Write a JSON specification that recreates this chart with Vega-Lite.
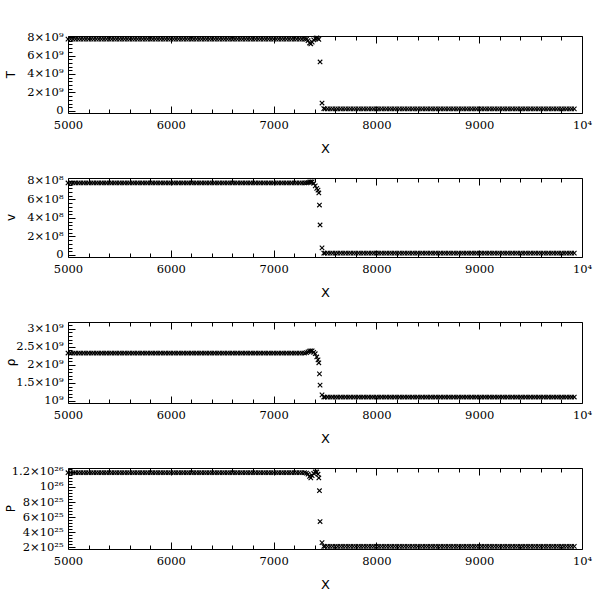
{
 "$schema": "https://vega.github.io/schema/vega-lite/v6.json",
 "background": "white",
 "padding": {"left": 3, "top": 30, "right": 5, "bottom": 5},
 "config": {"view": {"stroke": "black", "strokeWidth": 1}, "axis": {"domain": false, "grid": false, "tickColor": "black", "labelColor": "black", "labelFont": "DejaVu Serif", "labelFontSize": 11.5, "titleColor": "black", "titleFontWeight": "normal"}},
 "datasets": {"d": [
{"x":5000,"T":7.78e9,"v":7.78e8,"r":2.33e9,"P":1.19e26},{"x":5025,"T":7.78e9,"v":7.78e8,"r":2.33e9,"P":1.19e26},{"x":5050,"T":7.78e9,"v":7.78e8,"r":2.33e9,"P":1.19e26},{"x":5075,"T":7.78e9,"v":7.78e8,"r":2.33e9,"P":1.19e26},{"x":5100,"T":7.78e9,"v":7.78e8,"r":2.33e9,"P":1.19e26},{"x":5125,"T":7.78e9,"v":7.78e8,"r":2.33e9,"P":1.19e26},{"x":5150,"T":7.78e9,"v":7.78e8,"r":2.33e9,"P":1.19e26},{"x":5175,"T":7.78e9,"v":7.78e8,"r":2.33e9,"P":1.19e26},{"x":5200,"T":7.78e9,"v":7.78e8,"r":2.33e9,"P":1.19e26},{"x":5225,"T":7.78e9,"v":7.78e8,"r":2.33e9,"P":1.19e26},{"x":5250,"T":7.78e9,"v":7.78e8,"r":2.33e9,"P":1.19e26},{"x":5275,"T":7.78e9,"v":7.78e8,"r":2.33e9,"P":1.19e26},{"x":5300,"T":7.78e9,"v":7.78e8,"r":2.33e9,"P":1.19e26},{"x":5325,"T":7.78e9,"v":7.78e8,"r":2.33e9,"P":1.19e26},{"x":5350,"T":7.78e9,"v":7.78e8,"r":2.33e9,"P":1.19e26},{"x":5375,"T":7.78e9,"v":7.78e8,"r":2.33e9,"P":1.19e26},{"x":5400,"T":7.78e9,"v":7.78e8,"r":2.33e9,"P":1.19e26},{"x":5425,"T":7.78e9,"v":7.78e8,"r":2.33e9,"P":1.19e26},{"x":5450,"T":7.78e9,"v":7.78e8,"r":2.33e9,"P":1.19e26},{"x":5475,"T":7.78e9,"v":7.78e8,"r":2.33e9,"P":1.19e26},{"x":5500,"T":7.78e9,"v":7.78e8,"r":2.33e9,"P":1.19e26},{"x":5525,"T":7.78e9,"v":7.78e8,"r":2.33e9,"P":1.19e26},{"x":5550,"T":7.78e9,"v":7.78e8,"r":2.33e9,"P":1.19e26},{"x":5575,"T":7.78e9,"v":7.78e8,"r":2.33e9,"P":1.19e26},{"x":5600,"T":7.78e9,"v":7.78e8,"r":2.33e9,"P":1.19e26},{"x":5625,"T":7.78e9,"v":7.78e8,"r":2.33e9,"P":1.19e26},{"x":5650,"T":7.78e9,"v":7.78e8,"r":2.33e9,"P":1.19e26},{"x":5675,"T":7.78e9,"v":7.78e8,"r":2.33e9,"P":1.19e26},{"x":5700,"T":7.78e9,"v":7.78e8,"r":2.33e9,"P":1.19e26},{"x":5725,"T":7.78e9,"v":7.78e8,"r":2.33e9,"P":1.19e26},{"x":5750,"T":7.78e9,"v":7.78e8,"r":2.33e9,"P":1.19e26},{"x":5775,"T":7.78e9,"v":7.78e8,"r":2.33e9,"P":1.19e26},{"x":5800,"T":7.78e9,"v":7.78e8,"r":2.33e9,"P":1.19e26},{"x":5825,"T":7.78e9,"v":7.78e8,"r":2.33e9,"P":1.19e26},{"x":5850,"T":7.78e9,"v":7.78e8,"r":2.33e9,"P":1.19e26},{"x":5875,"T":7.78e9,"v":7.78e8,"r":2.33e9,"P":1.19e26},{"x":5900,"T":7.78e9,"v":7.78e8,"r":2.33e9,"P":1.19e26},{"x":5925,"T":7.78e9,"v":7.78e8,"r":2.33e9,"P":1.19e26},{"x":5950,"T":7.78e9,"v":7.78e8,"r":2.33e9,"P":1.19e26},{"x":5975,"T":7.78e9,"v":7.78e8,"r":2.33e9,"P":1.19e26},{"x":6000,"T":7.78e9,"v":7.78e8,"r":2.33e9,"P":1.19e26},{"x":6025,"T":7.78e9,"v":7.78e8,"r":2.33e9,"P":1.19e26},{"x":6050,"T":7.78e9,"v":7.78e8,"r":2.33e9,"P":1.19e26},{"x":6075,"T":7.78e9,"v":7.78e8,"r":2.33e9,"P":1.19e26},{"x":6100,"T":7.78e9,"v":7.78e8,"r":2.33e9,"P":1.19e26},{"x":6125,"T":7.78e9,"v":7.78e8,"r":2.33e9,"P":1.19e26},{"x":6150,"T":7.78e9,"v":7.78e8,"r":2.33e9,"P":1.19e26},{"x":6175,"T":7.78e9,"v":7.78e8,"r":2.33e9,"P":1.19e26},{"x":6200,"T":7.78e9,"v":7.78e8,"r":2.33e9,"P":1.19e26},{"x":6225,"T":7.78e9,"v":7.78e8,"r":2.33e9,"P":1.19e26},{"x":6250,"T":7.78e9,"v":7.78e8,"r":2.33e9,"P":1.19e26},{"x":6275,"T":7.78e9,"v":7.78e8,"r":2.33e9,"P":1.19e26},{"x":6300,"T":7.78e9,"v":7.78e8,"r":2.33e9,"P":1.19e26},{"x":6325,"T":7.78e9,"v":7.78e8,"r":2.33e9,"P":1.19e26},{"x":6350,"T":7.78e9,"v":7.78e8,"r":2.33e9,"P":1.19e26},{"x":6375,"T":7.78e9,"v":7.78e8,"r":2.33e9,"P":1.19e26},{"x":6400,"T":7.78e9,"v":7.78e8,"r":2.33e9,"P":1.19e26},{"x":6425,"T":7.78e9,"v":7.78e8,"r":2.33e9,"P":1.19e26},{"x":6450,"T":7.78e9,"v":7.78e8,"r":2.33e9,"P":1.19e26},{"x":6475,"T":7.78e9,"v":7.78e8,"r":2.33e9,"P":1.19e26},{"x":6500,"T":7.78e9,"v":7.78e8,"r":2.33e9,"P":1.19e26},{"x":6525,"T":7.78e9,"v":7.78e8,"r":2.33e9,"P":1.19e26},{"x":6550,"T":7.78e9,"v":7.78e8,"r":2.33e9,"P":1.19e26},{"x":6575,"T":7.78e9,"v":7.78e8,"r":2.33e9,"P":1.19e26},{"x":6600,"T":7.78e9,"v":7.78e8,"r":2.33e9,"P":1.19e26},{"x":6625,"T":7.78e9,"v":7.78e8,"r":2.33e9,"P":1.19e26},{"x":6650,"T":7.78e9,"v":7.78e8,"r":2.33e9,"P":1.19e26},{"x":6675,"T":7.78e9,"v":7.78e8,"r":2.33e9,"P":1.19e26},{"x":6700,"T":7.78e9,"v":7.78e8,"r":2.33e9,"P":1.19e26},{"x":6725,"T":7.78e9,"v":7.78e8,"r":2.33e9,"P":1.19e26},{"x":6750,"T":7.78e9,"v":7.78e8,"r":2.33e9,"P":1.19e26},{"x":6775,"T":7.78e9,"v":7.78e8,"r":2.33e9,"P":1.19e26},{"x":6800,"T":7.78e9,"v":7.78e8,"r":2.33e9,"P":1.19e26},{"x":6825,"T":7.78e9,"v":7.78e8,"r":2.33e9,"P":1.19e26},{"x":6850,"T":7.78e9,"v":7.78e8,"r":2.33e9,"P":1.19e26},{"x":6875,"T":7.78e9,"v":7.78e8,"r":2.33e9,"P":1.19e26},{"x":6900,"T":7.78e9,"v":7.78e8,"r":2.33e9,"P":1.19e26},{"x":6925,"T":7.78e9,"v":7.78e8,"r":2.33e9,"P":1.19e26},{"x":6950,"T":7.78e9,"v":7.78e8,"r":2.33e9,"P":1.19e26},{"x":6975,"T":7.78e9,"v":7.78e8,"r":2.33e9,"P":1.19e26},{"x":7000,"T":7.78e9,"v":7.78e8,"r":2.33e9,"P":1.19e26},{"x":7025,"T":7.78e9,"v":7.78e8,"r":2.33e9,"P":1.19e26},{"x":7050,"T":7.78e9,"v":7.78e8,"r":2.33e9,"P":1.19e26},{"x":7075,"T":7.78e9,"v":7.78e8,"r":2.33e9,"P":1.19e26},{"x":7100,"T":7.78e9,"v":7.78e8,"r":2.33e9,"P":1.19e26},{"x":7125,"T":7.78e9,"v":7.78e8,"r":2.33e9,"P":1.19e26},{"x":7150,"T":7.78e9,"v":7.78e8,"r":2.33e9,"P":1.19e26},{"x":7175,"T":7.78e9,"v":7.78e8,"r":2.33e9,"P":1.19e26},{"x":7200,"T":7.78e9,"v":7.78e8,"r":2.33e9,"P":1.19e26},{"x":7225,"T":7.78e9,"v":7.78e8,"r":2.33e9,"P":1.19e26},{"x":7250,"T":7.78e9,"v":7.78e8,"r":2.33e9,"P":1.19e26},{"x":7275,"T":7.78e9,"v":7.78e8,"r":2.33e9,"P":1.19e26},{"x":7300,"T":7.78e9,"v":7.78e8,"r":2.33e9,"P":1.19e26},
{"x":7320,"T":7.76e9,"v":7.8e8,"r":2.34e9,"P":1.185e26},{"x":7335,"T":7.6e9,"v":7.83e8,"r":2.36e9,"P":1.17e26},{"x":7350,"T":7.35e9,"v":7.87e8,"r":2.38e9,"P":1.14e26},{"x":7362,"T":7.25e9,"v":7.9e8,"r":2.39e9,"P":1.12e26},{"x":7375,"T":7.45e9,"v":7.9e8,"r":2.39e9,"P":1.15e26},{"x":7390,"T":7.7e9,"v":7.75e8,"r":2.35e9,"P":1.18e26},{"x":7405,"T":7.85e9,"v":7.46e8,"r":2.31e9,"P":1.2e26},{"x":7420,"T":7.9e9,"v":7.2e8,"r":2.22e9,"P":1.2e26},{"x":7432,"T":7.85e9,"v":7.0e8,"r":2.14e9,"P":1.17e26},{"x":7440,"T":7.75e9,"v":6.7e8,"r":2.06e9,"P":1.12e26},{"x":7446,"v":5.4e8,"r":1.75e9,"P":9.5e25},{"x":7452,"T":5.3e9,"v":3.24e8,"r":1.44e9,"P":5.4e25},{"x":7471,"T":8.6e8,"v":7.6e7,"r":1.17e9,"P":2.6e25},{"x":7488,"T":2.5e8,"v":2e7,"r":1.11e9,"P":2.1e25},
{"x":7500,"T":2.2e8,"v":2e7,"r":1.11e9,"P":2.1e25},{"x":7525,"T":2.2e8,"v":2e7,"r":1.11e9,"P":2.1e25},{"x":7550,"T":2.2e8,"v":2e7,"r":1.11e9,"P":2.1e25},{"x":7575,"T":2.2e8,"v":2e7,"r":1.11e9,"P":2.1e25},{"x":7600,"T":2.2e8,"v":2e7,"r":1.11e9,"P":2.1e25},{"x":7625,"T":2.2e8,"v":2e7,"r":1.11e9,"P":2.1e25},{"x":7650,"T":2.2e8,"v":2e7,"r":1.11e9,"P":2.1e25},{"x":7675,"T":2.2e8,"v":2e7,"r":1.11e9,"P":2.1e25},{"x":7700,"T":2.2e8,"v":2e7,"r":1.11e9,"P":2.1e25},{"x":7725,"T":2.2e8,"v":2e7,"r":1.11e9,"P":2.1e25},{"x":7750,"T":2.2e8,"v":2e7,"r":1.11e9,"P":2.1e25},{"x":7775,"T":2.2e8,"v":2e7,"r":1.11e9,"P":2.1e25},{"x":7800,"T":2.2e8,"v":2e7,"r":1.11e9,"P":2.1e25},{"x":7825,"T":2.2e8,"v":2e7,"r":1.11e9,"P":2.1e25},{"x":7850,"T":2.2e8,"v":2e7,"r":1.11e9,"P":2.1e25},{"x":7875,"T":2.2e8,"v":2e7,"r":1.11e9,"P":2.1e25},{"x":7900,"T":2.2e8,"v":2e7,"r":1.11e9,"P":2.1e25},{"x":7925,"T":2.2e8,"v":2e7,"r":1.11e9,"P":2.1e25},{"x":7950,"T":2.2e8,"v":2e7,"r":1.11e9,"P":2.1e25},{"x":7975,"T":2.2e8,"v":2e7,"r":1.11e9,"P":2.1e25},{"x":8000,"T":2.2e8,"v":2e7,"r":1.11e9,"P":2.1e25},{"x":8025,"T":2.2e8,"v":2e7,"r":1.11e9,"P":2.1e25},{"x":8050,"T":2.2e8,"v":2e7,"r":1.11e9,"P":2.1e25},{"x":8075,"T":2.2e8,"v":2e7,"r":1.11e9,"P":2.1e25},{"x":8100,"T":2.2e8,"v":2e7,"r":1.11e9,"P":2.1e25},{"x":8125,"T":2.2e8,"v":2e7,"r":1.11e9,"P":2.1e25},{"x":8150,"T":2.2e8,"v":2e7,"r":1.11e9,"P":2.1e25},{"x":8175,"T":2.2e8,"v":2e7,"r":1.11e9,"P":2.1e25},{"x":8200,"T":2.2e8,"v":2e7,"r":1.11e9,"P":2.1e25},{"x":8225,"T":2.2e8,"v":2e7,"r":1.11e9,"P":2.1e25},{"x":8250,"T":2.2e8,"v":2e7,"r":1.11e9,"P":2.1e25},{"x":8275,"T":2.2e8,"v":2e7,"r":1.11e9,"P":2.1e25},{"x":8300,"T":2.2e8,"v":2e7,"r":1.11e9,"P":2.1e25},{"x":8325,"T":2.2e8,"v":2e7,"r":1.11e9,"P":2.1e25},{"x":8350,"T":2.2e8,"v":2e7,"r":1.11e9,"P":2.1e25},{"x":8375,"T":2.2e8,"v":2e7,"r":1.11e9,"P":2.1e25},{"x":8400,"T":2.2e8,"v":2e7,"r":1.11e9,"P":2.1e25},{"x":8425,"T":2.2e8,"v":2e7,"r":1.11e9,"P":2.1e25},{"x":8450,"T":2.2e8,"v":2e7,"r":1.11e9,"P":2.1e25},{"x":8475,"T":2.2e8,"v":2e7,"r":1.11e9,"P":2.1e25},{"x":8500,"T":2.2e8,"v":2e7,"r":1.11e9,"P":2.1e25},{"x":8525,"T":2.2e8,"v":2e7,"r":1.11e9,"P":2.1e25},{"x":8550,"T":2.2e8,"v":2e7,"r":1.11e9,"P":2.1e25},{"x":8575,"T":2.2e8,"v":2e7,"r":1.11e9,"P":2.1e25},{"x":8600,"T":2.2e8,"v":2e7,"r":1.11e9,"P":2.1e25},{"x":8625,"T":2.2e8,"v":2e7,"r":1.11e9,"P":2.1e25},{"x":8650,"T":2.2e8,"v":2e7,"r":1.11e9,"P":2.1e25},{"x":8675,"T":2.2e8,"v":2e7,"r":1.11e9,"P":2.1e25},{"x":8700,"T":2.2e8,"v":2e7,"r":1.11e9,"P":2.1e25},{"x":8725,"T":2.2e8,"v":2e7,"r":1.11e9,"P":2.1e25},{"x":8750,"T":2.2e8,"v":2e7,"r":1.11e9,"P":2.1e25},{"x":8775,"T":2.2e8,"v":2e7,"r":1.11e9,"P":2.1e25},{"x":8800,"T":2.2e8,"v":2e7,"r":1.11e9,"P":2.1e25},{"x":8825,"T":2.2e8,"v":2e7,"r":1.11e9,"P":2.1e25},{"x":8850,"T":2.2e8,"v":2e7,"r":1.11e9,"P":2.1e25},{"x":8875,"T":2.2e8,"v":2e7,"r":1.11e9,"P":2.1e25},{"x":8900,"T":2.2e8,"v":2e7,"r":1.11e9,"P":2.1e25},{"x":8925,"T":2.2e8,"v":2e7,"r":1.11e9,"P":2.1e25},{"x":8950,"T":2.2e8,"v":2e7,"r":1.11e9,"P":2.1e25},{"x":8975,"T":2.2e8,"v":2e7,"r":1.11e9,"P":2.1e25},{"x":9000,"T":2.2e8,"v":2e7,"r":1.11e9,"P":2.1e25},{"x":9025,"T":2.2e8,"v":2e7,"r":1.11e9,"P":2.1e25},{"x":9050,"T":2.2e8,"v":2e7,"r":1.11e9,"P":2.1e25},{"x":9075,"T":2.2e8,"v":2e7,"r":1.11e9,"P":2.1e25},{"x":9100,"T":2.2e8,"v":2e7,"r":1.11e9,"P":2.1e25},{"x":9125,"T":2.2e8,"v":2e7,"r":1.11e9,"P":2.1e25},{"x":9150,"T":2.2e8,"v":2e7,"r":1.11e9,"P":2.1e25},{"x":9175,"T":2.2e8,"v":2e7,"r":1.11e9,"P":2.1e25},{"x":9200,"T":2.2e8,"v":2e7,"r":1.11e9,"P":2.1e25},{"x":9225,"T":2.2e8,"v":2e7,"r":1.11e9,"P":2.1e25},{"x":9250,"T":2.2e8,"v":2e7,"r":1.11e9,"P":2.1e25},{"x":9275,"T":2.2e8,"v":2e7,"r":1.11e9,"P":2.1e25},{"x":9300,"T":2.2e8,"v":2e7,"r":1.11e9,"P":2.1e25},{"x":9325,"T":2.2e8,"v":2e7,"r":1.11e9,"P":2.1e25},{"x":9350,"T":2.2e8,"v":2e7,"r":1.11e9,"P":2.1e25},{"x":9375,"T":2.2e8,"v":2e7,"r":1.11e9,"P":2.1e25},{"x":9400,"T":2.2e8,"v":2e7,"r":1.11e9,"P":2.1e25},{"x":9425,"T":2.2e8,"v":2e7,"r":1.11e9,"P":2.1e25},{"x":9450,"T":2.2e8,"v":2e7,"r":1.11e9,"P":2.1e25},{"x":9475,"T":2.2e8,"v":2e7,"r":1.11e9,"P":2.1e25},{"x":9500,"T":2.2e8,"v":2e7,"r":1.11e9,"P":2.1e25},{"x":9525,"T":2.2e8,"v":2e7,"r":1.11e9,"P":2.1e25},{"x":9550,"T":2.2e8,"v":2e7,"r":1.11e9,"P":2.1e25},{"x":9575,"T":2.2e8,"v":2e7,"r":1.11e9,"P":2.1e25},{"x":9600,"T":2.2e8,"v":2e7,"r":1.11e9,"P":2.1e25},{"x":9625,"T":2.2e8,"v":2e7,"r":1.11e9,"P":2.1e25},{"x":9650,"T":2.2e8,"v":2e7,"r":1.11e9,"P":2.1e25},{"x":9675,"T":2.2e8,"v":2e7,"r":1.11e9,"P":2.1e25},{"x":9700,"T":2.2e8,"v":2e7,"r":1.11e9,"P":2.1e25},{"x":9725,"T":2.2e8,"v":2e7,"r":1.11e9,"P":2.1e25},{"x":9750,"T":2.2e8,"v":2e7,"r":1.11e9,"P":2.1e25},{"x":9775,"T":2.2e8,"v":2e7,"r":1.11e9,"P":2.1e25},{"x":9800,"T":2.2e8,"v":2e7,"r":1.11e9,"P":2.1e25},{"x":9825,"T":2.2e8,"v":2e7,"r":1.11e9,"P":2.1e25},{"x":9850,"T":2.2e8,"v":2e7,"r":1.11e9,"P":2.1e25},{"x":9875,"T":2.2e8,"v":2e7,"r":1.11e9,"P":2.1e25},{"x":9900,"T":2.2e8,"v":2e7,"r":1.11e9,"P":2.1e25},{"x":9925,"T":2.2e8,"v":2e7,"r":1.11e9,"P":2.1e25}
 ]},
 "data": {"name": "d"},
 "spacing": 65,
 "bounds": "flush",
 "vconcat": [
  {"width": 514, "height": 77,
   "layer": [
    {"mark": {"type": "point", "shape": "M-1,-1L1,1M-1,1L1,-1", "size": 20, "filled": false, "stroke": "black", "strokeWidth": 1.1, "opacity": 1},
     "encoding": {
      "x": {"field": "x", "type": "quantitative", "scale": {"domain": [5000, 10000], "nice": false, "zero": false},
            "axis": {"orient": "bottom", "values": [5000,5200,5400,5600,5800,6000,6200,6400,6600,6800,7000,7200,7400,7600,7800,8000,8200,8400,8600,8800,9000,9200,9400,9600,9800,10000], "labelExpr": "datum.value % 1000 == 0 ? (datum.value == 10000 ? '10⁴' : format(datum.value, 'd')) : ''", "tickSize": {"condition": {"test": "datum.value % 1000 == 0", "value": -7}, "value": -4}, "labelPadding": 13, "labelFlush": false, "labelOverlap": false, "title": "X", "titleFont": "DejaVu Sans", "titleFontSize": 13, "titleBaseline": "middle", "titleY": 35}},
      "y": {"field": "T", "type": "quantitative", "scale": {"domain": [-2.2e8, 8.11e9], "nice": false, "zero": false},
            "axis": {"orient": "left", "values": [0,400000000,800000000,1200000000,1600000000,2000000000,2400000000,2800000000,3200000000,3600000000,4000000000,4400000000,4800000000,5200000000,5600000000,6000000000,6400000000,6800000000,7200000000,7600000000,8000000000], "labelExpr": "datum.value == 0 ? '0' : (datum.value % 2000000000 == 0 ? format(datum.value / 1e9, 'd') + '×10⁹' : '')", "tickSize": {"condition": {"test": "datum.value % 2000000000 == 0", "value": -7}, "value": -4}, "labelPadding": 12, "labelOverlap": false, "labelFlush": false, "title": "T", "titleFont": "DejaVu Sans", "titleFontSize": 12, "titleBaseline": "middle", "titleX": -58, "titleY": 38}}
     }},
    {"mark": {"type": "point", "opacity": 0},
     "encoding": {
      "x": {"field": "x", "type": "quantitative", "axis": {"orient": "top", "values": [5000,5200,5400,5600,5800,6000,6200,6400,6600,6800,7000,7200,7400,7600,7800,8000,8200,8400,8600,8800,9000,9200,9400,9600,9800,10000], "labels": false, "title": null, "tickSize": {"condition": {"test": "datum.value % 1000 == 0", "value": -7}, "value": -4}}},
      "y": {"field": "T", "type": "quantitative", "axis": null}
     }}
   ],
   "resolve": {"axis": {"x": "independent", "y": "independent"}}
  },
  {"width": 514, "height": 79,
   "layer": [
    {"mark": {"type": "point", "shape": "M-1,-1L1,1M-1,1L1,-1", "size": 20, "filled": false, "stroke": "black", "strokeWidth": 1.1, "opacity": 1},
     "encoding": {
      "x": {"field": "x", "type": "quantitative", "scale": {"domain": [5000, 10000], "nice": false, "zero": false},
            "axis": {"orient": "bottom", "values": [5000,5200,5400,5600,5800,6000,6200,6400,6600,6800,7000,7200,7400,7600,7800,8000,8200,8400,8600,8800,9000,9200,9400,9600,9800,10000], "labelExpr": "datum.value % 1000 == 0 ? (datum.value == 10000 ? '10⁴' : format(datum.value, 'd')) : ''", "tickSize": {"condition": {"test": "datum.value % 1000 == 0", "value": -7}, "value": -4}, "labelPadding": 13, "labelFlush": false, "labelOverlap": false, "title": "X", "titleFont": "DejaVu Sans", "titleFontSize": 13, "titleBaseline": "middle", "titleY": 35}},
      "y": {"field": "v", "type": "quantitative", "scale": {"domain": [-2.2e7, 8.32e8], "nice": false, "zero": false},
            "axis": {"orient": "left", "values": [0,40000000,80000000,120000000,160000000,200000000,240000000,280000000,320000000,360000000,400000000,440000000,480000000,520000000,560000000,600000000,640000000,680000000,720000000,760000000,800000000], "labelExpr": "datum.value == 0 ? '0' : (datum.value % 200000000 == 0 ? format(datum.value / 1e8, 'd') + '×10⁸' : '')", "tickSize": {"condition": {"test": "datum.value % 200000000 == 0", "value": -7}, "value": -4}, "labelPadding": 12, "labelOverlap": false, "labelFlush": false, "title": "v", "titleFont": "DejaVu Sans", "titleFontSize": 12, "titleBaseline": "middle", "titleX": -58, "titleY": 39}}
     }},
    {"mark": {"type": "point", "opacity": 0},
     "encoding": {
      "x": {"field": "x", "type": "quantitative", "axis": {"orient": "top", "values": [5000,5200,5400,5600,5800,6000,6200,6400,6600,6800,7000,7200,7400,7600,7800,8000,8200,8400,8600,8800,9000,9200,9400,9600,9800,10000], "labels": false, "title": null, "tickSize": {"condition": {"test": "datum.value % 1000 == 0", "value": -7}, "value": -4}}},
      "y": {"field": "v", "type": "quantitative", "axis": null}
     }}
   ],
   "resolve": {"axis": {"x": "independent", "y": "independent"}}
  },
  {"width": 514, "height": 81,
   "layer": [
    {"mark": {"type": "point", "shape": "M-1,-1L1,1M-1,1L1,-1", "size": 20, "filled": false, "stroke": "black", "strokeWidth": 1.1, "opacity": 1},
     "encoding": {
      "x": {"field": "x", "type": "quantitative", "scale": {"domain": [5000, 10000], "nice": false, "zero": false},
            "axis": {"orient": "bottom", "values": [5000,5200,5400,5600,5800,6000,6200,6400,6600,6800,7000,7200,7400,7600,7800,8000,8200,8400,8600,8800,9000,9200,9400,9600,9800,10000], "labelExpr": "datum.value % 1000 == 0 ? (datum.value == 10000 ? '10⁴' : format(datum.value, 'd')) : ''", "tickSize": {"condition": {"test": "datum.value % 1000 == 0", "value": -7}, "value": -4}, "labelPadding": 13, "labelFlush": false, "labelOverlap": false, "title": "X", "titleFont": "DejaVu Sans", "titleFontSize": 13, "titleBaseline": "middle", "titleY": 35}},
      "y": {"field": "r", "type": "quantitative", "scale": {"domain": [9.44e8, 3.19e9], "nice": false, "zero": false},
            "axis": {"orient": "left", "values": [1000000000,1100000000,1200000000,1300000000,1400000000,1500000000,1600000000,1700000000,1800000000,1900000000,2000000000,2100000000,2200000000,2300000000,2400000000,2500000000,2600000000,2700000000,2800000000,2900000000,3000000000,3100000000], "labelExpr": "datum.value == 1000000000 ? '10⁹' : (datum.value % 500000000 == 0 ? format(datum.value / 1e9, '') + '×10⁹' : '')", "tickSize": {"condition": {"test": "datum.value % 500000000 == 0", "value": -7}, "value": -4}, "labelPadding": 12, "labelOverlap": false, "labelFlush": false, "title": "ρ", "titleFont": "DejaVu Sans", "titleFontSize": 12, "titleBaseline": "middle", "titleX": -58, "titleY": 40}}
     }},
    {"mark": {"type": "point", "opacity": 0},
     "encoding": {
      "x": {"field": "x", "type": "quantitative", "axis": {"orient": "top", "values": [5000,5200,5400,5600,5800,6000,6200,6400,6600,6800,7000,7200,7400,7600,7800,8000,8200,8400,8600,8800,9000,9200,9400,9600,9800,10000], "labels": false, "title": null, "tickSize": {"condition": {"test": "datum.value % 1000 == 0", "value": -7}, "value": -4}}},
      "y": {"field": "r", "type": "quantitative", "axis": null}
     }}
   ],
   "resolve": {"axis": {"x": "independent", "y": "independent"}}
  },
  {"width": 514, "height": 81,
   "layer": [
    {"mark": {"type": "point", "shape": "M-1,-1L1,1M-1,1L1,-1", "size": 20, "filled": false, "stroke": "black", "strokeWidth": 1.1, "opacity": 1},
     "encoding": {
      "x": {"field": "x", "type": "quantitative", "scale": {"domain": [5000, 10000], "nice": false, "zero": false},
            "axis": {"orient": "bottom", "values": [5000,5200,5400,5600,5800,6000,6200,6400,6600,6800,7000,7200,7400,7600,7800,8000,8200,8400,8600,8800,9000,9200,9400,9600,9800,10000], "labelExpr": "datum.value % 1000 == 0 ? (datum.value == 10000 ? '10⁴' : format(datum.value, 'd')) : ''", "tickSize": {"condition": {"test": "datum.value % 1000 == 0", "value": -7}, "value": -4}, "labelPadding": 13, "labelFlush": false, "labelOverlap": false, "title": "X", "titleFont": "DejaVu Sans", "titleFontSize": 13, "titleBaseline": "middle", "titleY": 35}},
      "y": {"field": "P", "type": "quantitative", "scale": {"domain": [1.74e25, 1.253e26], "nice": false, "zero": false},
            "axis": {"orient": "left", "values": [2e25,2.4e25,2.8e25,3.2e25,3.6e25,4e25,4.4e25,4.8e25,5.2e25,5.6e25,6e25,6.4e25,6.8e25,7.2e25,7.6e25,8e25,8.4e25,8.8e25,9.2e25,9.6e25,1e26,1.04e26,1.08e26,1.12e26,1.16e26,1.2e26,1.24e26], "labelExpr": "abs(datum.value / 2e25 - round(datum.value / 2e25)) < 1e-6 ? (round(datum.value / 1e25) == 10 ? '10²⁶' : (round(datum.value / 1e25) == 12 ? '1.2×10²⁶' : round(datum.value / 1e25) + '×10²⁵')) : ''", "tickSize": {"condition": {"test": "abs(datum.value / 2e25 - round(datum.value / 2e25)) < 1e-6", "value": -7}, "value": -4}, "labelPadding": 12, "labelOverlap": false, "labelFlush": false, "title": "P", "titleFont": "DejaVu Sans", "titleFontSize": 12, "titleBaseline": "middle", "titleX": -58, "titleY": 40}}
     }},
    {"mark": {"type": "point", "opacity": 0},
     "encoding": {
      "x": {"field": "x", "type": "quantitative", "axis": {"orient": "top", "values": [5000,5200,5400,5600,5800,6000,6200,6400,6600,6800,7000,7200,7400,7600,7800,8000,8200,8400,8600,8800,9000,9200,9400,9600,9800,10000], "labels": false, "title": null, "tickSize": {"condition": {"test": "datum.value % 1000 == 0", "value": -7}, "value": -4}}},
      "y": {"field": "P", "type": "quantitative", "axis": null}
     }}
   ],
   "resolve": {"axis": {"x": "independent", "y": "independent"}}
  }
 ]
}
